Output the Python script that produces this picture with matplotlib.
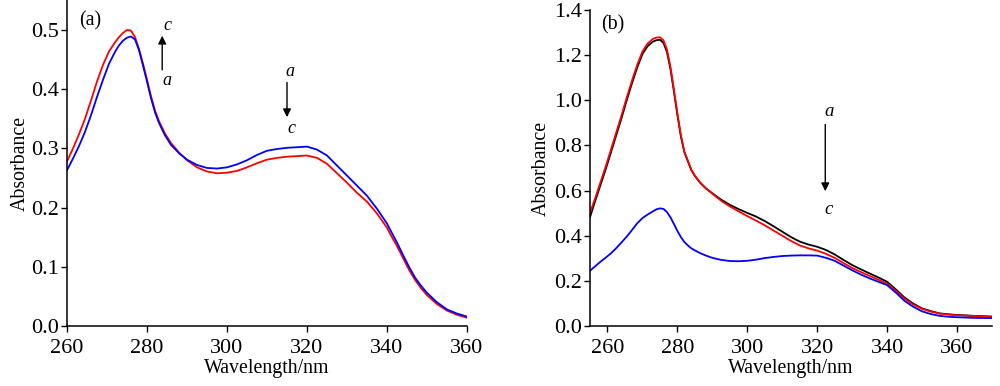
import numpy as np
import matplotlib
matplotlib.use("Agg")
from matplotlib import pyplot as plt
from matplotlib.ticker import FormatStrFormatter

plt.rcParams['font.family'] = ['Liberation Serif', 'DejaVu Serif']

# panel (a) spectra
wl_a = [260, 261.5, 263, 264.5, 266, 267.5, 269, 270.5, 272, 273, 274, 275, 276, 277,
        278, 279, 280, 281, 282, 283, 284.5, 286, 288, 290, 292.5, 295, 297.5, 300,
        302.5, 305, 307.5, 310, 312.5, 315, 317.5, 320, 322.5, 325, 327.5, 330,
        332.5, 335, 337.5, 340, 341, 342.5, 344, 345.5, 347, 348.5, 350, 352.5, 355,
        357.5, 360]
red_a = [0.278, 0.300, 0.324, 0.350, 0.381, 0.413, 0.441, 0.464, 0.479, 0.488, 0.495,
         0.500, 0.499, 0.488, 0.468, 0.443, 0.416, 0.388, 0.364, 0.346, 0.325, 0.309,
         0.293, 0.280, 0.268, 0.261, 0.258, 0.259, 0.262, 0.268, 0.275, 0.281, 0.284,
         0.286, 0.287, 0.288, 0.284, 0.274, 0.258, 0.242, 0.225, 0.210, 0.190, 0.166,
         0.153, 0.135, 0.115, 0.095, 0.078, 0.064, 0.052, 0.037, 0.026, 0.019, 0.014]
blue_a = [0.263, 0.283, 0.304, 0.328, 0.356, 0.387, 0.416, 0.443, 0.463, 0.474, 0.482,
          0.487, 0.489, 0.484, 0.466, 0.440, 0.413, 0.385, 0.361, 0.343, 0.322, 0.306,
          0.292, 0.281, 0.272, 0.267, 0.266, 0.268, 0.273, 0.280, 0.289, 0.296, 0.299,
          0.301, 0.302, 0.303, 0.298, 0.288, 0.271, 0.254, 0.237, 0.220, 0.198, 0.173,
          0.160, 0.141, 0.120, 0.100, 0.082, 0.068, 0.056, 0.040, 0.028, 0.021, 0.016]

# panel (b) spectra
wl_b = [255, 256.5, 258, 259.5, 261, 262.5, 264, 265.5, 267, 268.5, 270, 271.5, 273,
        274, 275, 276, 277, 278, 279, 280, 281, 282, 283, 284, 285, 286.5, 288, 290,
        292.5, 295, 297.5, 300, 302.5, 305, 307.5, 310, 312.5, 315, 317.5, 320, 322.5,
        325, 327.5, 330, 332.5, 335, 337.5, 340, 342.5, 345, 347.5, 350, 352.5, 355,
        357.5, 360, 365, 370]
black_b = [0.482, 0.555, 0.625, 0.695, 0.770, 0.845, 0.920, 1.000, 1.075, 1.145, 1.205,
           1.240, 1.260, 1.266, 1.268, 1.255, 1.215, 1.140, 1.040, 0.935, 0.840, 0.770,
           0.730, 0.690, 0.665, 0.635, 0.612, 0.588, 0.560, 0.537, 0.518, 0.501, 0.485,
           0.465, 0.442, 0.418, 0.394, 0.374, 0.361, 0.351, 0.337, 0.317, 0.293, 0.270,
           0.251, 0.233, 0.215, 0.196, 0.162, 0.126, 0.099, 0.078, 0.066, 0.056, 0.052,
           0.049, 0.045, 0.042]
red_b = [0.502, 0.567, 0.637, 0.707, 0.782, 0.857, 0.932, 1.012, 1.087, 1.157, 1.216,
         1.252, 1.272, 1.278, 1.279, 1.266, 1.226, 1.150, 1.048, 0.942, 0.845, 0.772,
         0.732, 0.692, 0.666, 0.636, 0.612, 0.586, 0.555, 0.530, 0.508, 0.487, 0.467,
         0.446, 0.423, 0.400, 0.377, 0.357, 0.344, 0.334, 0.320, 0.302, 0.279, 0.257,
         0.239, 0.222, 0.205, 0.188, 0.156, 0.121, 0.095, 0.076, 0.064, 0.055, 0.051,
         0.048, 0.044, 0.041]
blue_b = [0.245, 0.265, 0.285, 0.303, 0.322, 0.345, 0.370, 0.396, 0.425, 0.455, 0.478,
          0.494, 0.508, 0.517, 0.521, 0.519, 0.505, 0.482, 0.452, 0.421, 0.394, 0.372,
          0.357, 0.344, 0.335, 0.323, 0.313, 0.302, 0.293, 0.288, 0.287, 0.289, 0.294,
          0.301, 0.306, 0.310, 0.312, 0.313, 0.313, 0.312, 0.302, 0.289, 0.268, 0.247,
          0.228, 0.211, 0.196, 0.181, 0.148, 0.111, 0.085, 0.065, 0.053, 0.045, 0.041,
          0.039, 0.036, 0.035]

fig = plt.figure(figsize=(10, 3.86), dpi=100)
ax1 = fig.add_axes([0.067, 0.1554, 0.400, 0.8436])
ax2 = fig.add_axes([0.590, 0.1554, 0.402, 0.8187])

tfs = 16
lfs = 14.3
lw = 1.3


def style(ax, ypad):
    for s in ['top', 'right']:
        ax.spines[s].set_visible(False)
    for s in ['left', 'bottom']:
        ax.spines[s].set_linewidth(1.1)
    ax.tick_params(direction='out', length=4, width=1.0, labelsize=tfs, pad=2)
    ax.tick_params(axis='x', pad=5)
    ax.yaxis.set_major_formatter(FormatStrFormatter('%.1f'))
    ax.set_xlabel('Wavelength/nm', fontsize=lfs, labelpad=1)
    ax.set_ylabel('Absorbance', fontsize=lfs, labelpad=ypad)


def arrow(ax, x, y0, y1):
    ax.annotate('', xy=(x, y1), xytext=(x, y0),
                arrowprops=dict(arrowstyle='-|>', color='black', lw=1.0,
                                mutation_scale=12))


ax1.plot(wl_a, red_a, color='#ff0000', lw=lw)
ax1.plot(wl_a, blue_a, color='#0000ff', lw=lw)
ax1.set_xlim(260, 360)
ax1.set_ylim(0, 0.55)
ax1.set_xticks([260, 280, 300, 320, 340, 360])
ax1.set_yticks(np.arange(0, 0.51, 0.1))
style(ax1, 1)
ax1.text(263, 0.515, '(a)', fontsize=lfs, va='center')
arrow(ax1, 283.8, 0.428, 0.495)
ax1.text(285.2, 0.507, 'c', fontsize=13, style='italic', ha='center', va='center')
ax1.text(285.0, 0.415, 'a', fontsize=13, style='italic', ha='center', va='center')
arrow(ax1, 315.0, 0.416, 0.348)
ax1.text(315.8, 0.430, 'a', fontsize=13, style='italic', ha='center', va='center')
ax1.text(316.2, 0.333, 'c', fontsize=13, style='italic', ha='center', va='center')

ax2.plot(wl_b, black_b, color='black', lw=lw)
ax2.plot(wl_b, red_b, color='#ff0000', lw=lw)
ax2.plot(wl_b, blue_b, color='#0000ff', lw=lw)
ax2.set_xlim(255, 370)
ax2.set_ylim(0, 1.4)
ax2.set_xticks([260, 280, 300, 320, 340, 360])
ax2.set_yticks(np.arange(0, 1.41, 0.2))
style(ax2, 2)
ax2.text(258.3, 1.335, '(b)', fontsize=lfs, va='center')
arrow(ax2, 322.3, 0.905, 0.585)
ax2.text(323.4, 0.950, 'a', fontsize=13.5, style='italic', ha='center', va='center')
ax2.text(323.4, 0.515, 'c', fontsize=13.5, style='italic', ha='center', va='center')

fig.savefig('out.png', dpi=100)
